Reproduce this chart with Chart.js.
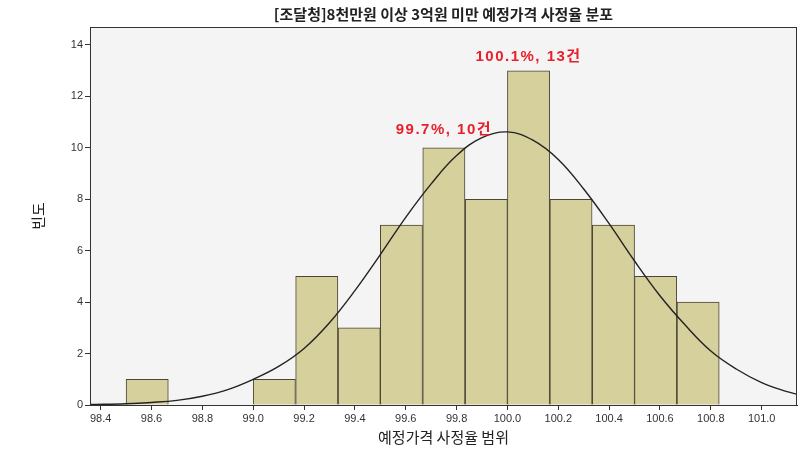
<!DOCTYPE html>
<html>
<head>
<meta charset="utf-8">
<script src="https://cdn.jsdelivr.net/npm/chart.js@4/dist/chart.umd.min.js"></script>
<style>
  html, body { margin: 0; padding: 0; background: #fff; }
  #wrap { width: 800px; height: 454px; }
</style>
</head>
<body>
<div id="wrap"><canvas id="hist" width="800" height="454"></canvas></div>
<script>
// Histogram bins (bin centres, SPSS bin width 1/6) and counts
const binCenters = [98.583, 99.083, 99.25, 99.417, 99.583, 99.75, 99.917, 100.083, 100.25, 100.417, 100.583, 100.75];
const binCounts = [1, 1, 5, 3, 7, 10, 8, 13, 8, 7, 5, 4];

// Normal curve
const curveX = [98.36, 98.5, 98.6, 98.7, 98.8, 98.9, 99.0, 99.1, 99.2, 99.3, 99.4, 99.5, 99.6, 99.7, 99.8, 99.9,
  100.0, 100.1, 100.2, 100.3, 100.4, 100.5, 100.6, 100.7, 100.8, 100.9, 101.0, 101.1, 101.14];
const curveY = [0.02, 0.05, 0.1, 0.18, 0.34, 0.6, 1.0, 1.5, 2.2, 3.2, 4.45, 5.85, 7.3, 8.6, 9.7, 10.4,
  10.62, 10.3, 9.55, 8.4, 7.05, 5.6, 4.25, 3.1, 2.1, 1.4, 0.87, 0.52, 0.42];

// Tick labels
const xTicks = [98.4, 98.6, 98.8, 99.0, 99.2, 99.4, 99.6, 99.8, 100.0, 100.2, 100.4, 100.6, 100.8, 101.0];
const yTicks = [0, 2, 4, 6, 8, 10, 12, 14];

// Red callouts over two bars
const noteBins = [5, 7];
const noteTexts = ["99.7%, 10건", "100.1%, 13건"];

const titleText = "[조달청]8천만원 이상 3억원 미만 예정가격 사정율 분포";
const xTitle = "예정가격 사정율 범위";
const yTitle = "빈도";

const axisColor = "#333";
const tickFont = { family: "'Liberation Sans', Arial, sans-serif", size: 11 };

// plot background + frame
const plotFrame = {
  id: "plotFrame",
  beforeDatasetsDraw(chart) {
    const { ctx, chartArea: a } = chart;
    ctx.save();
    ctx.fillStyle = "#f4f4f5";
    ctx.fillRect(a.left, a.top, a.right - a.left, a.bottom - a.top);
    ctx.restore();
  },
  afterDraw(chart) {
    const { ctx, chartArea: a } = chart;
    ctx.save();
    ctx.strokeStyle = axisColor;
    ctx.lineWidth = 1;
    ctx.strokeRect(a.left + 0.5, a.top + 0.5, a.right - a.left - 1, a.bottom - a.top);
    ctx.restore();
  },
};

// red labels above the marked bars
const barNotes = {
  id: "barNotes",
  afterDatasetsDraw(chart) {
    const meta = chart.getDatasetMeta(0);
    const ctx = chart.ctx;
    ctx.save();
    ctx.fillStyle = "#e8202b";
    ctx.font = "bold 15px 'Liberation Sans', 'Noto Sans CJK KR', sans-serif";
    ctx.letterSpacing = "1.5px";
    ctx.textAlign = "center";
    ctx.textBaseline = "bottom";
    noteBins.forEach((idx, k) => {
      const bar = meta.data[idx];
      ctx.fillText(noteTexts[k], bar.x, bar.y - (k === 0 ? 10 : 6));
    });
    ctx.restore();
  },
};

new Chart(document.getElementById("hist"), {
  type: "bar",
  data: {
    datasets: [
      {
        type: "bar",
        order: 1,
        data: binCenters.map((x, i) => ({ x, y: binCounts[i] })),
        backgroundColor: "#d6d09d",
        borderColor: "#4b4535",
        borderWidth: 1,
        barPercentage: 1,
        categoryPercentage: 1,
      },
      {
        type: "line",
        order: 0,
        data: curveX.map((x, i) => ({ x, y: curveY[i] })),
        borderColor: "#222",
        borderWidth: 1.4,
        pointRadius: 0,
        tension: 0.4,
        fill: false,
      },
    ],
  },
  options: {
    responsive: false,
    animation: false,
    devicePixelRatio: 1,
    layout: { padding: { left: 0, right: 3, top: 0, bottom: 0 } },
    plugins: {
      legend: { display: false },
      tooltip: { enabled: false },
      title: {
        display: true,
        text: titleText,
        fullSize: false,
        color: "#222",
        font: { family: "'Noto Sans CJK KR', sans-serif", size: 15, weight: "bold", lineHeight: 1.2 },
        padding: { top: 5, bottom: 4 },
      },
    },
    scales: {
      x: {
        type: "linear",
        min: 98.358,
        max: 101.139,
        offset: false,
        afterBuildTicks: (s) => { s.ticks = xTicks.map((v) => ({ value: v })); },
        afterFit: (s) => { s.height = 49; },
        border: { display: true, color: axisColor, width: 1 },
        grid: { display: true, drawOnChartArea: false, offset: false, tickLength: 5, color: axisColor },
        ticks: {
          color: "#333",
          font: tickFont,
          padding: 2,
          maxRotation: 0,
          autoSkip: false,
          callback: (v) => Number(v).toFixed(1),
        },
        title: {
          display: true,
          text: xTitle,
          color: "#222",
          font: { family: "'Noto Sans CJK KR', sans-serif", size: 15, lineHeight: 1.2 },
          padding: { top: 4, bottom: 8 },
        },
      },
      y: {
        type: "linear",
        min: 0,
        max: 14.7,
        afterBuildTicks: (s) => { s.ticks = yTicks.map((v) => ({ value: v })); },
        afterFit: (s) => { s.width = 90; },
        border: { display: true, color: axisColor, width: 1 },
        grid: { display: true, drawOnChartArea: false, tickLength: 5, color: axisColor },
        ticks: { color: "#333", font: tickFont, padding: 2 },
        title: {
          display: true,
          text: yTitle,
          color: "#222",
          font: { family: "'Noto Sans CJK KR', sans-serif", size: 15, lineHeight: 1.2 },
          padding: { top: 29, bottom: 0 },
        },
      },
    },
  },
  plugins: [plotFrame, barNotes],
});
</script>
</body>
</html>
